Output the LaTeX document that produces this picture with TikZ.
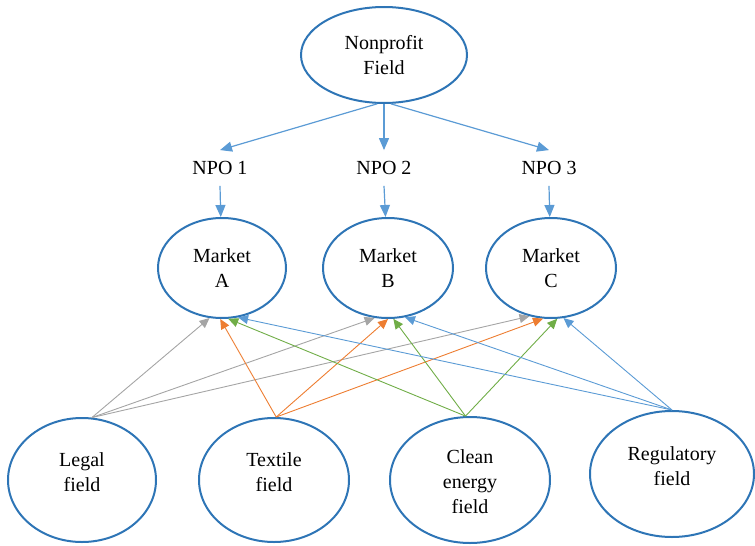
\documentclass[tikz,border=0pt]{standalone}
\usepackage{fontspec}
\setmainfont{Liberation Serif}
\usetikzlibrary{shapes.geometric, arrows.meta}
\definecolor{ringblue}{RGB}{46,117,182}
\definecolor{lnblue}{RGB}{91,155,213}
\definecolor{lnorange}{RGB}{237,125,49}
\definecolor{lngray}{RGB}{165,165,165}
\definecolor{lngreen}{RGB}{112,173,71}

\begin{document}
\begin{tikzpicture}[x=1pt, y=-1pt,
	every node/.style={font=\fontsize{20}{25}\selectfont, align=center},
	oval/.style={ellipse, draw=ringblue, line width=2pt, inner sep=0pt},
	npo/.style={inner sep=11pt},
	down/.style={lnblue, line width=1.2pt, -{Triangle[length=12pt,width=10pt]}},
	tie/.style={line width=0.9pt, -{Triangle[length=10pt,width=9pt]}}]
	
	\useasboundingbox (0,0) rectangle (755,546);
	
	% top field and the three organisations
	\node[oval, minimum width=166pt, minimum height=96pt] (nonprofit) at (384,55) {Nonprofit\\Field};
	\node[npo] (npo1) at (220,168) {NPO 1};
	\node[npo] (npo2) at (384,168) {NPO 2};
	\node[npo] (npo3) at (549,168) {NPO 3};
	
	% markets
	\node[oval, minimum width=128pt, minimum height=100pt] (mA) at (222,268) {Market\\A};
	\node[oval, minimum width=130pt, minimum height=100pt] (mB) at (388,268) {Market\\B};
	\node[oval, minimum width=130pt, minimum height=100pt] (mC) at (551,268) {Market\\C};
	
	% other fields
	\node[oval, minimum width=148pt, minimum height=124pt,
		label={[yshift=7.5pt]center:Legal\\field}] (legal) at (82,480) {};
	\node[oval, minimum width=150pt, minimum height=124pt,
		label={[yshift=7.5pt]center:Textile\\field}] (textile) at (274,480) {};
	\node[oval, minimum width=160pt, minimum height=126pt,
		label={[yshift=-2pt]center:Clean\\energy\\field}] (clean) at (470,480) {};
	\node[oval, minimum width=164pt, minimum height=126pt,
		label={[yshift=7.5pt]center:Regulatory\\field}] (regulatory) at (672,474) {};
	
	\draw[down] (nonprofit.262) -- (npo1.north);
	\draw[down] (nonprofit.south) -- (npo2.north);
	\draw[down] (nonprofit.278) -- (npo3.north);
	\draw[down] (npo1.south) -- (mA);
	\draw[down] (npo2.south) -- (mB);
	\draw[down] (npo3.south) -- (mC);
	
	\draw[tie, lngray] (legal.81) -- (mA.256);
	\draw[tie, lngray] (legal.81) -- (mB.255);
	\draw[tie, lngray] (legal.81) -- (mC.246);
	
	\draw[tie, lnorange] (textile.88) -- (mA.268);
	\draw[tie, lnorange] (textile.88) -- (mB.270);
	\draw[tie, lnorange] (textile.88) -- (mC.261);
	
	\draw[tie, lngreen] (clean.94) -- (mA.277);
	\draw[tie, lngreen] (clean.94) -- (mB.276);
	\draw[tie, lngreen] (clean.94) -- (mC.277);
	
	\draw[tie, lnblue] (regulatory.90) -- (mA.288);
	\draw[tie, lnblue] (regulatory.90) -- (mB.289);
	\draw[tie, lnblue] (regulatory.90) -- (mC.284);
\end{tikzpicture}
\end{document}
